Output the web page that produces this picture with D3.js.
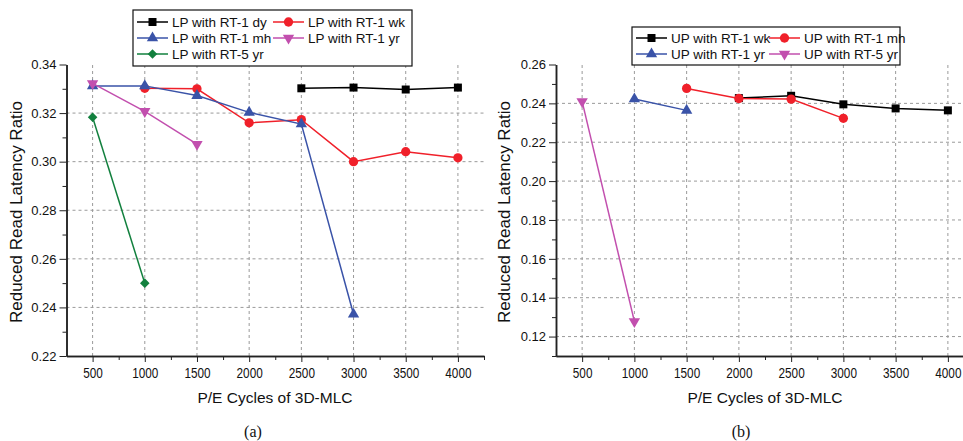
<!DOCTYPE html>
<html lang="en">
<head>
<meta charset="UTF-8">
<title>Reduced Read Latency Ratio</title>
<script src="https://d3js.org/d3.v7.min.js"></script>
<style>
    body { margin: 0; padding: 0; background: #fff; }
    svg { display: block; font-family: 'Liberation Sans', Arial, sans-serif; }
    .grid line { stroke: #9a9a9a; stroke-width: 1; stroke-dasharray: 3,3; }
    .axis path, .axis line { stroke: #222; }
    .axis path { stroke-width: 1.5; }
    .axis text { font-size: 13px; fill: #111; font-family: 'Liberation Sans', Arial, sans-serif; }
    .x-axis text { font-size: 15.5px; }
    .x-title { font-size: 15.5px; fill: #111; text-anchor: middle; }
    .y-title { font-size: 17px; fill: #111; text-anchor: middle; }
    .legend-text { font-size: 13.5px; fill: #111; }
    .caption { font-family: 'Liberation Serif', 'Times New Roman', serif; font-size: 16px; text-anchor: middle; fill: #111; }
</style>
</head>
<body>
<svg width="963" height="441"></svg>
<script>
// P/E cycles (x categories)
const cycles = [500, 1000, 1500, 2000, 2500, 3000, 3500, 4000];
const xMinorTicks = [750, 1250, 1750, 2250, 2750, 3250, 3750, 4250];

// panel (a): LP
const lpDy   = [null, null, null, null, 0.3302, 0.3305, 0.3297, 0.3305];
const lpWk   = [null, 0.3302, 0.3300, 0.3160, 0.3173, 0.3000, 0.3041, 0.3016];
const lpMh   = [0.3312, 0.3312, 0.3272, 0.3203, 0.3155, 0.2372, null, null];
const lpYr   = [0.3322, 0.3207, 0.3072, null, null, null, null, null];
const lp5Yr  = [0.3183, 0.2500, null, null, null, null, null, null];
const yTicksA = [0.22, 0.24, 0.26, 0.28, 0.30, 0.32, 0.34];

// panel (b): UP
const upWk   = [null, null, null, 0.2427, 0.2439, 0.2395, 0.2374, 0.2364];
const upMh   = [null, null, 0.2477, 0.2425, 0.2422, 0.2323, null, null];
const upYr   = [null, 0.2422, 0.2364, null, null, null, null, null];
const up5Yr  = [0.2410, 0.1278, null, null, null, null, null, null];
const yTicksB = [0.12, 0.14, 0.16, 0.18, 0.20, 0.22, 0.24, 0.26];

const BLACK = "#000000", RED = "#f0202a", BLUE = "#3a53a8", PINK = "#c24fae", GREEN = "#12803e";

const svg = d3.select("svg");

const panels = [
    {
        xRange: [66.5, 484], yDomain: [0.22, 0.34], yTicks: yTicksA,
        yMinor: [0.23, 0.25, 0.27, 0.29, 0.31, 0.33],
        ylabelX: 22, xlabelX: 275, captionX: 253, caption: "(a)",
        series: [
            { name: "LP with RT-1 dy", values: lpDy, color: BLACK, sym: "square" },
            { name: "LP with RT-1 wk", values: lpWk, color: RED, sym: "circle" },
            { name: "LP with RT-1 mh", values: lpMh, color: BLUE, sym: "triangle" },
            { name: "LP with RT-1 yr", values: lpYr, color: PINK, sym: "down" },
            { name: "LP with RT-5 yr", values: lp5Yr, color: GREEN, sym: "diamond" }
        ],
        legend: { x: 133, y: 10, w: 279, h: 56, col2: 136, rowY: [22, 38, 54] }
    },
    {
        xRange: [556, 974], yDomain: [0.11, 0.26], yTicks: yTicksB,
        yMinor: [0.11, 0.13, 0.15, 0.17, 0.19, 0.21, 0.23, 0.25],
        ylabelX: 510, xlabelX: 765, captionX: 741, caption: "(b)",
        series: [
            { name: "UP with RT-1 wk", values: upWk, color: BLACK, sym: "square" },
            { name: "UP with RT-1 mh", values: upMh, color: RED, sym: "circle" },
            { name: "UP with RT-1 yr", values: upYr, color: BLUE, sym: "triangle" },
            { name: "UP with RT-5 yr", values: up5Yr, color: PINK, sym: "down" }
        ],
        legend: { x: 632, y: 27, w: 268, h: 38, col2: 133, rowY: [38, 54] }
    }
];

const yTop = 64.5, yBottom = 356;

function symbolPath(sym) {
    if (sym === "square") return { d: d3.symbol(d3.symbolSquare, 64)(), rot: 0 };
    if (sym === "circle") return { d: d3.symbol(d3.symbolCircle, 68)(), rot: 0 };
    if (sym === "triangle") return { d: d3.symbol(d3.symbolTriangle, 56)(), rot: 0 };
    if (sym === "down") return { d: d3.symbol(d3.symbolTriangle, 56)(), rot: 180 };
    return { d: d3.symbol(d3.symbolSquare, 46)(), rot: 45 };
}

panels.forEach(function(p) {
    const x = d3.scaleLinear().domain([250, 4250]).range(p.xRange);
    const y = d3.scaleLinear().domain(p.yDomain).range([yBottom, yTop]);
    const g = svg.append("g");

    // grid
    const grid = g.append("g").attr("class", "grid");
    grid.selectAll(".vg").data(cycles).enter().append("line")
        .attr("x1", d => x(d)).attr("x2", d => x(d))
        .attr("y1", yBottom).attr("y2", yTop);
    grid.selectAll(".hg").data(p.yTicks.filter(t => t > p.yDomain[0] + 1e-9 && t < p.yDomain[1] - 1e-9)).enter().append("line")
        .attr("x1", p.xRange[0]).attr("x2", p.xRange[1])
        .attr("y1", d => y(d)).attr("y2", d => y(d));

    // axes
    g.append("g").attr("class", "axis")
        .attr("transform", "translate(0," + yBottom + ")")
        .call(d3.axisBottom(x).tickValues(xMinorTicks).tickSize(4).tickSizeOuter(0).tickFormat(""));
    g.append("g").attr("class", "axis x-axis")
        .attr("transform", "translate(0," + yBottom + ")")
        .call(d3.axisBottom(x).tickValues(cycles).tickSize(6).tickSizeOuter(0).tickPadding(5).tickFormat(d3.format("d")))
        .selectAll("text").attr("transform", "scale(0.76,1)");
    g.append("g").attr("class", "axis")
        .attr("transform", "translate(" + p.xRange[0] + ",0)")
        .call(d3.axisLeft(y).tickValues(p.yMinor).tickSize(4).tickSizeOuter(0).tickFormat(""));
    g.append("g").attr("class", "axis")
        .attr("transform", "translate(" + p.xRange[0] + ",0)")
        .call(d3.axisLeft(y).tickValues(p.yTicks).tickSize(7).tickSizeOuter(0).tickPadding(3).tickFormat(d3.format(".2f")));

    // series
    const line = d3.line()
        .defined(d => d.v !== null)
        .x(d => x(d.c)).y(d => y(d.v));

    p.series.forEach(function(s) {
        const pts = cycles.map((c, i) => ({ c: c, v: s.values[i] }));
        g.append("path")
            .datum(pts)
            .attr("fill", "none")
            .attr("stroke", s.color)
            .attr("stroke-width", 1.5)
            .attr("d", line);
        const sp = symbolPath(s.sym);
        g.selectAll(null).data(pts.filter(d => d.v !== null)).enter().append("path")
            .attr("d", sp.d)
            .attr("transform", d => "translate(" + x(d.c) + "," + y(d.v) + ") rotate(" + sp.rot + ")")
            .attr("fill", s.color);
    });

    // legend
    const L = p.legend;
    const lg = g.append("g");
    lg.append("rect")
        .attr("x", L.x).attr("y", L.y).attr("width", L.w).attr("height", L.h)
        .attr("fill", "#fff").attr("stroke", "#111").attr("stroke-width", 1.2);
    p.series.forEach(function(s, i) {
        const col = i % 2, row = Math.floor(i / 2);
        const lx = L.x + 4 + col * L.col2;
        const ly = L.rowY[row];
        lg.append("line")
            .attr("x1", lx).attr("x2", lx + 31).attr("y1", ly).attr("y2", ly)
            .attr("stroke", s.color).attr("stroke-width", 1.5);
        const sp = symbolPath(s.sym);
        lg.append("path").attr("d", sp.d)
            .attr("transform", "translate(" + (lx + 15.5) + "," + ly + ") rotate(" + sp.rot + ")")
            .attr("fill", s.color);
        lg.append("text").attr("class", "legend-text")
            .attr("x", lx + 35).attr("y", ly + 5)
            .text(s.name);
    });

    // titles
    g.append("text").attr("class", "x-title")
        .attr("x", p.xlabelX).attr("y", 403)
        .text("P/E Cycles of 3D-MLC");
    g.append("text").attr("class", "y-title")
        .attr("transform", "translate(" + p.ylabelX + "," + 212 + ") rotate(-90)")
        .text("Reduced Read Latency Ratio");
    g.append("text").attr("class", "caption")
        .attr("x", p.captionX).attr("y", 437)
        .text(p.caption);
});
</script>
</body>
</html>
